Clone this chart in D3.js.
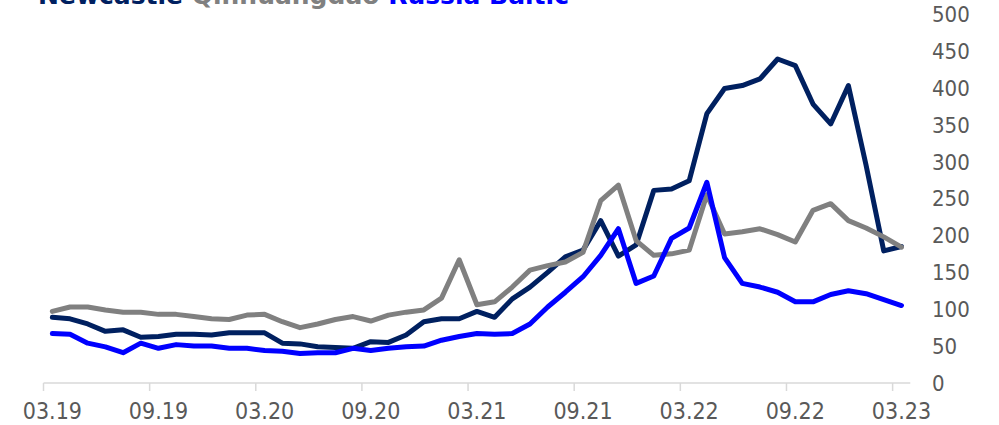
<!DOCTYPE html>
<html>
<head>
<meta charset="utf-8">
<script src="https://cdn.jsdelivr.net/npm/d3@7"></script>
<style>
  html, body { margin: 0; padding: 0; background: #ffffff; }
  svg { display: block; }
  .tick-label { font-family: "DejaVu Sans Condensed", "DejaVu Sans", sans-serif; font-stretch: condensed; fill: #595959; }
  .title { font-family: "DejaVu Sans", Verdana, sans-serif; font-weight: bold; }
</style>
</head>
<body>
<div id="chart"></div>
<script>
// Monthly freight rates, 03.2019 – 03.2023
const startMonth = new Date(2019, 2, 1);
const months = d3.timeMonth.range(startMonth, new Date(2023, 3, 1));

const newcastle = [89, 87, 80, 70, 72, 62, 63, 66, 66, 65, 68, 68, 68, 54, 53, 49, 48, 47, 56, 55,
  65, 83, 87, 87, 97, 89, 114, 130, 150, 171, 180, 220, 172, 187, 261, 263, 274, 365, 399, 403,
  412, 439, 430, 378, 351, 403, 295, 179, 185];
const qinhuangdao = [97, 103, 103, 99, 96, 96, 93, 93, 90, 87, 86, 92, 93, 83, 75, 80, 86, 90, 84, 92,
  96, 99, 115, 167, 106, 110, 130, 153, 159, 164, 177, 247, 268, 193, 173, 175, 180, 255, 202, 205,
  209, 201, 191, 234, 243, 220, 210, 198, 184];
const russiaBaltic = [67, 66, 54, 49, 41, 54, 47, 52, 50, 50, 47, 47, 44, 43, 40, 41, 41, 47, 44, 47,
  49, 50, 58, 63, 67, 66, 67, 80, 103, 123, 144, 173, 209, 135, 145, 196, 210, 272, 170, 135,
  130, 123, 110, 110, 120, 125, 121, 113, 105];

const xTickLabels = ["03.19", "09.19", "03.20", "09.20", "03.21", "09.21", "03.22", "09.22", "03.23"];
const yTicks = [0, 50, 100, 150, 200, 250, 300, 350, 400, 450, 500];

const seriesNames = ["Newcastle", "Qinhuangdao", "Russia Baltic"];
const seriesColors = ["#002060", "#808080", "#0000ff"];

const W = 999, H = 425;
const svg = d3.select("#chart").append("svg").attr("width", W).attr("height", H);
svg.append("rect").attr("width", W).attr("height", H).attr("fill", "#ffffff");

// month slots: each month occupies one slot, points sit in the slot centre
const x = d3.scaleLinear().domain([0, months.length]).range([43.5, 910.3]);
const y = d3.scaleLinear().domain([0, 500]).range([383, 14]);

// x axis: baseline, ticks every six months at slot boundaries, labels centred in the slot
const xAxis = svg.append("g");
xAxis.append("line")
  .attr("x1", x(0)).attr("x2", x(months.length))
  .attr("y1", y(0)).attr("y2", y(0))
  .attr("stroke", "#d9d9d9").attr("stroke-width", 1.5);
const tickIdx = xTickLabels.map((_, k) => k * 6);
xAxis.selectAll("line.xt").data(tickIdx).join("line").attr("class", "xt")
  .attr("x1", d => x(d)).attr("x2", d => x(d))
  .attr("y1", y(0)).attr("y2", y(0) + 8)
  .attr("stroke", "#d9d9d9").attr("stroke-width", 1.5);
xAxis.selectAll("text").data(xTickLabels).join("text").attr("class", "tick-label")
  .attr("x", (d, k) => x(tickIdx[k] + 0.5))
  .attr("y", 419)
  .attr("text-anchor", "middle")
  .attr("font-size", 23)
  .text(d => d);

// y axis on the right, labels only
svg.append("g").selectAll("text").data(yTicks).join("text").attr("class", "tick-label")
  .attr("x", 932)
  .attr("y", d => y(d))
  .attr("dy", "0.36em")
  .attr("font-size", 22)
  .text(d => d);

// lines
const line = d3.line()
  .x((d, i) => x(i + 0.5))
  .y(d => y(d));
[newcastle, qinhuangdao, russiaBaltic].forEach((vals, s) => {
  svg.append("path")
    .datum(vals)
    .attr("d", line)
    .attr("fill", "none")
    .attr("stroke", seriesColors[s])
    .attr("stroke-width", 5)
    .attr("stroke-linejoin", "round")
    .attr("stroke-linecap", "round");
});

// title, coloured per series; it sits at the very top edge of the frame
const title = svg.append("text").attr("class", "title")
  .attr("x", 38).attr("y", 4).attr("font-size", 25);
seriesNames.forEach((name, s) => {
  title.append("tspan").attr("fill", seriesColors[s]).text((s ? " " : "") + name);
});
</script>
</body>
</html>
